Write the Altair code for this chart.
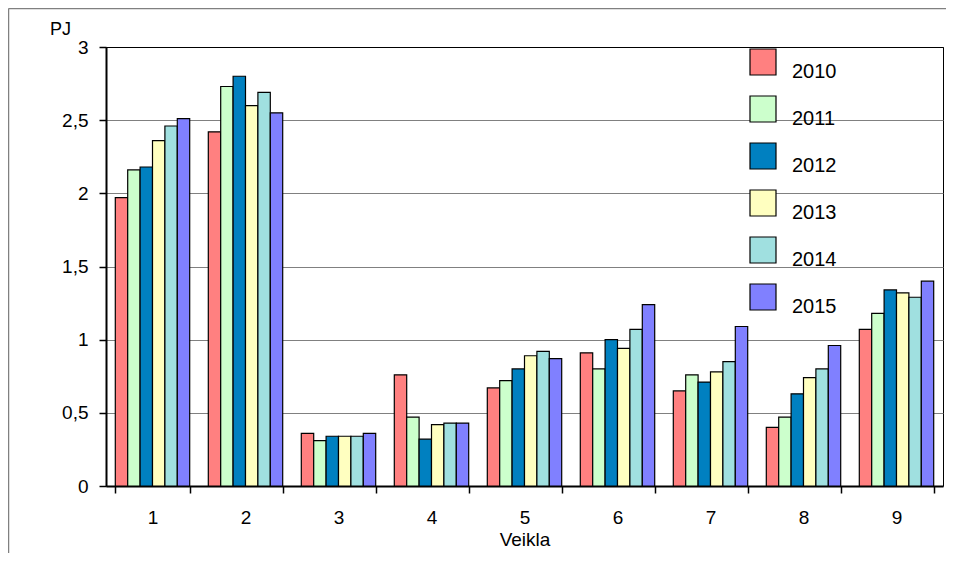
import altair as alt
import pandas as pd

groups = ["1", "2", "3", "4", "5", "6", "7", "8", "9"]
years = ["2010", "2011", "2012", "2013", "2014", "2015"]
v2010 = [1.97, 2.42, 0.36, 0.76, 0.67, 0.91, 0.65, 0.40, 1.07]
v2011 = [2.16, 2.73, 0.31, 0.47, 0.72, 0.80, 0.76, 0.47, 1.18]
v2012 = [2.18, 2.80, 0.34, 0.32, 0.80, 1.00, 0.71, 0.63, 1.34]
v2013 = [2.36, 2.60, 0.34, 0.42, 0.89, 0.94, 0.78, 0.74, 1.32]
v2014 = [2.46, 2.69, 0.34, 0.43, 0.92, 1.07, 0.85, 0.80, 1.29]
v2015 = [2.51, 2.55, 0.36, 0.43, 0.87, 1.24, 1.09, 0.96, 1.40]
colors = ["#FF8080", "#CCFFCC", "#0080C0", "#FFFFC0", "#A0E0E0", "#8080FF"]
y_ticks = [0, 0.5, 1, 1.5, 2, 2.5, 3]

series = [v2010, v2011, v2012, v2013, v2014, v2015]
rows = []
for yr, vals in zip(years, series):
    for g, v in zip(groups, vals):
        rows.append({"Veikla": g, "Metai": yr, "PJ": v})
df = pd.DataFrame(rows)

FONT = "Liberation Sans"

bars = alt.Chart(df).mark_bar(stroke="black", strokeWidth=1.2, opacity=1).encode(
    x=alt.X(
        "Veikla:N",
        sort=groups,
        scale=alt.Scale(paddingInner=0.2, paddingOuter=0.1),
        axis=alt.Axis(
            title="Veikla",
            labelAngle=0,
            tickBand="extent",
            tickSize=7,
            tickWidth=1.5,
            tickColor="black",
            domainColor="black",
            domainWidth=2,
            labelPadding=15,
            titlePadding=3,
            labelFontSize=19,
            titleFontSize=19,
            grid=False,
        ),
    ),
    xOffset=alt.XOffset("Metai:N", sort=years, scale=alt.Scale(paddingInner=0, paddingOuter=0)),
    y=alt.Y(
        "PJ:Q",
        scale=alt.Scale(domain=[0, 3], nice=False),
        axis=alt.Axis(
            title="PJ",
            values=y_ticks,
            labelExpr="replace(toString(datum.value), '.', ',')",
            tickSize=7,
            tickWidth=1.5,
            tickColor="black",
            domainColor="black",
            domainWidth=2,
            labelPadding=11,
            labelFontSize=19,
            titleFontSize=18,
            titleAngle=0,
            titleAlign="center",
            titleBaseline="middle",
            titleX=-46,
            titleY=-18,
            grid=True,
            gridColor=alt.condition("datum.value == 3", alt.value("black"), alt.value("#808080")),
            gridWidth=1,
        ),
    ),
    color=alt.Color(
        "Metai:N",
        sort=years,
        scale=alt.Scale(domain=years, range=colors),
        title=None,
        legend=alt.Legend(
            orient="none",
            legendX=643,
            legendY=1,
            symbolType="square",
            symbolSize=676,
            symbolStrokeColor="black",
            symbolStrokeWidth=1.2,
            symbolOpacity=1,
            labelFontSize=20,
            labelOffset=15,
            labelBaseline="top",
            rowPadding=11,
            padding=0,
        ),
    ),
)

frame_df = pd.DataFrame({"k": [0]})
frame_left = alt.Chart(frame_df).mark_rule(color="#808080", strokeWidth=1.5).encode(
    x=alt.value(-97.5), y=alt.value(-38.5), y2=alt.value(520)
)
frame_top = alt.Chart(frame_df).mark_rule(color="#808080", strokeWidth=1.5).encode(
    x=alt.value(-97.5), x2=alt.value(840), y=alt.value(-38.5)
)

chart = (
    alt.layer(bars, frame_left, frame_top)
    .properties(
        width=837,
        height=439,
        autosize=alt.AutoSizeParams(type="none"),
        padding={"left": 98, "top": 39, "right": 3, "bottom": 67},
    )
    .configure_view(stroke="black", strokeWidth=1)
    .configure_axis(labelFont=FONT, titleFont=FONT, labelColor="black", titleColor="black", titleFontWeight="normal")
    .configure_legend(labelFont=FONT, labelColor="black")
)

chart.save("out.html", embed_options={"renderer": "svg", "actions": False})
